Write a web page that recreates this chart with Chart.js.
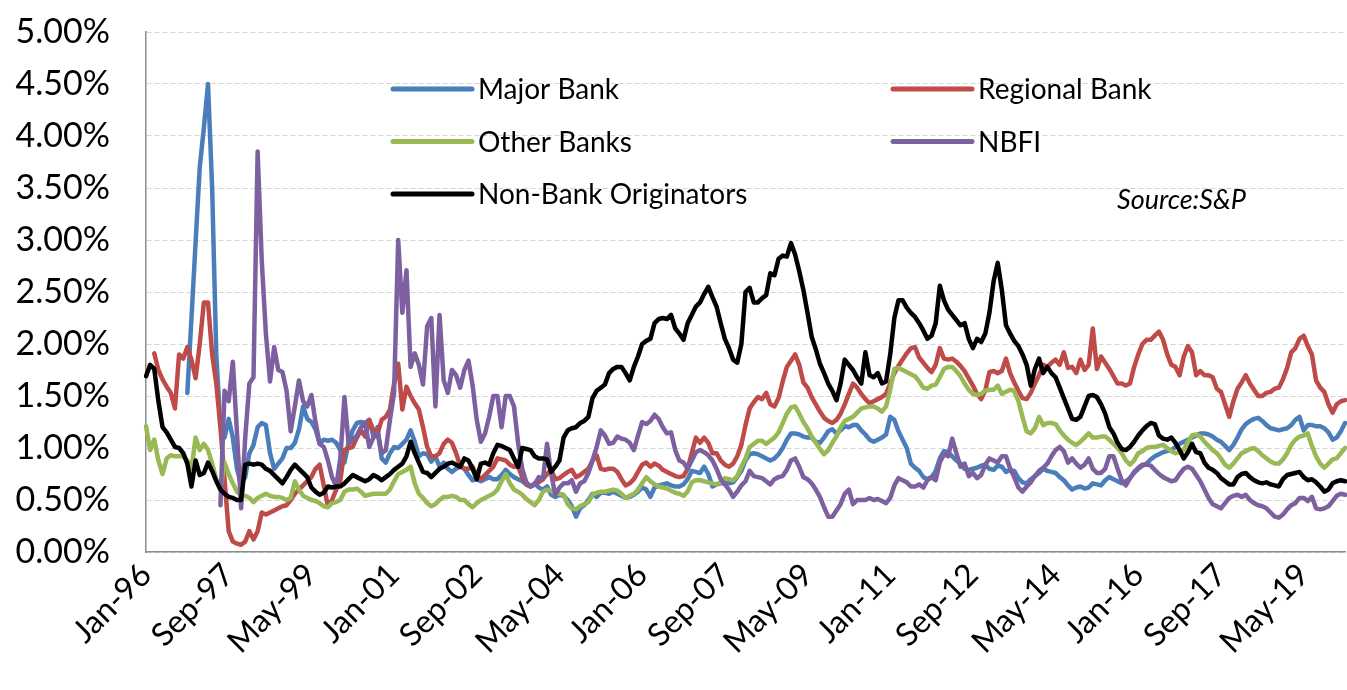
<!DOCTYPE html>
<html>
<head>
<meta charset="utf-8">
<script src="https://cdn.jsdelivr.net/npm/chart.js@4.4.1/dist/chart.umd.min.js"></script>
<style>
  html, body { margin: 0; padding: 0; background: #ffffff; }
  #wrap { width: 1347px; height: 690px; }
</style>
</head>
<body>
<div id="wrap"><canvas id="c" width="1347" height="690"></canvas></div>
<script>
// ---- categories (monthly, Jan-96 .. Mar-20) ----
const monthNames = ['Jan','Feb','Mar','Apr','May','Jun','Jul','Aug','Sep','Oct','Nov','Dec'];
const startYear = 1996;
const monthCount = 291;
const categories = [];
for (let i = 0; i < monthCount; i++) {
  const y = startYear + Math.floor(i / 12);
  categories.push(monthNames[i % 12] + '-' + String(y % 100).padStart(2, '0'));
}
// ---- tick labels shown on the x axis ----
const tickLabels = ['Jan-96','Sep-97','May-99','Jan-01','Sep-02','May-04','Jan-06','Sep-07','May-09','Jan-11','Sep-12','May-14','Jan-16','Sep-17','May-19'];
const yTicks = [0, 0.5, 1, 1.5, 2, 2.5, 3, 3.5, 4, 4.5, 5];
const sourceNote = 'Source:S&P';

// ---- series values (%) ----
const majorBank = [
null,null,null,null,null,null,null,null,null,null,
1.53,2.25,2.98,3.70,4.08,4.50,3.50,1.90,1.20,1.10,
1.28,1.10,0.80,0.65,0.72,0.95,1.03,1.20,1.24,1.22,
0.95,0.80,0.85,0.90,1.00,1.00,1.05,1.18,1.40,1.28,
1.25,1.18,1.04,1.08,1.07,1.08,1.05,0.98,0.86,1.05,
1.17,1.24,1.25,1.24,1.27,1.11,1.20,0.90,0.86,0.95,
1.01,1.00,1.04,1.08,1.17,1.06,0.92,0.95,0.94,0.87,
0.92,0.82,0.86,0.80,0.77,0.80,0.82,0.80,0.74,0.69,
0.70,0.68,0.70,0.72,0.70,0.70,0.74,0.79,0.75,0.72,
0.70,0.68,0.65,0.63,0.66,0.62,0.60,0.63,0.55,0.53,
0.55,0.54,0.50,0.44,0.34,0.42,0.45,0.50,0.56,0.53,
0.57,0.57,0.56,0.58,0.56,0.54,0.52,0.53,0.55,0.58,
0.62,0.60,0.53,0.62,0.64,0.65,0.66,0.64,0.63,0.63,
0.65,0.70,0.78,0.77,0.76,0.82,0.75,0.63,0.65,0.66,
0.66,0.66,0.67,0.72,0.78,0.88,0.94,0.95,0.94,0.92,
0.90,0.88,0.90,0.94,1.00,1.08,1.14,1.14,1.13,1.11,
1.10,1.10,1.06,1.05,1.10,1.16,1.18,1.14,1.17,1.21,
1.20,1.22,1.22,1.17,1.13,1.08,1.06,1.08,1.10,1.13,
1.30,1.27,1.16,1.08,1.00,0.85,0.81,0.78,0.72,0.70,
0.72,0.78,0.90,0.97,0.96,0.92,0.88,0.85,0.80,0.79,
0.80,0.81,0.83,0.84,0.80,0.79,0.83,0.82,0.77,0.79,
0.78,0.71,0.67,0.66,0.70,0.73,0.76,0.80,0.78,0.77,
0.76,0.72,0.69,0.64,0.60,0.62,0.63,0.61,0.62,0.66,
0.65,0.64,0.69,0.72,0.70,0.68,0.66,0.68,0.71,0.76,
0.80,0.83,0.85,0.89,0.92,0.94,0.96,0.97,0.98,1.01,
1.04,1.06,1.08,1.10,1.12,1.14,1.14,1.13,1.11,1.08,
1.06,1.02,0.98,1.03,1.10,1.18,1.23,1.26,1.28,1.29,
1.26,1.22,1.19,1.18,1.17,1.18,1.19,1.22,1.27,1.30,
1.17,1.22,1.22,1.21,1.21,1.19,1.15,1.08,1.10,1.16,1.24
];
const regionalBank = [
null,null,1.91,1.75,1.66,1.59,1.53,1.38,1.90,1.86,
1.97,1.85,1.67,2.00,2.40,2.40,1.90,1.62,1.20,0.70,
0.20,0.10,0.08,0.07,0.10,0.20,0.12,0.20,0.38,0.36,
0.38,0.40,0.42,0.44,0.45,0.50,0.56,0.60,0.64,0.68,
0.72,0.80,0.84,0.64,0.44,0.50,0.60,0.69,0.98,1.00,
1.01,1.10,1.17,1.11,1.27,1.17,1.14,1.27,1.30,1.37,
1.62,1.81,1.37,1.59,1.50,1.43,1.37,1.20,1.01,0.92,
0.92,0.95,1.04,1.08,1.05,0.95,0.83,0.80,0.80,0.82,
0.74,0.70,0.74,0.78,0.82,0.90,0.89,0.88,0.84,0.82,
0.82,0.72,0.65,0.63,0.65,0.67,0.70,0.75,0.79,0.70,
0.71,0.74,0.77,0.79,0.72,0.74,0.77,0.80,0.88,0.93,
0.80,0.79,0.80,0.80,0.77,0.70,0.64,0.66,0.70,0.77,
0.84,0.86,0.82,0.85,0.83,0.79,0.77,0.75,0.73,0.72,
0.73,0.80,0.95,1.10,1.05,1.10,1.05,0.95,0.95,0.88,
0.84,0.82,0.85,0.92,1.03,1.22,1.38,1.44,1.49,1.47,
1.53,1.42,1.40,1.48,1.64,1.78,1.84,1.90,1.80,1.63,
1.58,1.49,1.42,1.35,1.29,1.26,1.24,1.27,1.33,1.42,
1.52,1.62,1.58,1.52,1.47,1.43,1.45,1.47,1.49,1.52,
1.62,1.72,1.79,1.85,1.91,1.96,1.97,1.87,1.82,1.77,
1.73,1.80,1.96,1.86,1.85,1.86,1.83,1.79,1.74,1.67,
1.60,1.52,1.47,1.55,1.73,1.74,1.72,1.74,1.86,1.72,
1.63,1.55,1.48,1.47,1.53,1.62,1.70,1.80,1.78,1.82,
1.85,1.80,1.92,1.77,1.78,1.72,1.85,1.75,1.80,2.15,
1.76,1.88,1.82,1.76,1.69,1.62,1.62,1.60,1.62,1.78,
1.90,2.00,2.04,2.04,2.08,2.12,2.04,1.90,1.80,1.78,
1.70,1.88,1.98,1.92,1.70,1.74,1.70,1.70,1.68,1.57,
1.54,1.42,1.30,1.45,1.57,1.63,1.70,1.62,1.56,1.50,
1.50,1.53,1.54,1.57,1.58,1.66,1.77,1.92,1.96,2.05,
2.08,1.98,1.90,1.65,1.58,1.54,1.42,1.34,1.42,1.45,1.46
];
const otherBanks = [
1.21,0.98,1.08,0.88,0.75,0.90,0.93,0.92,0.92,0.92,
0.88,0.80,1.10,0.98,1.04,0.98,0.85,0.70,0.60,0.86,
0.75,0.66,0.58,0.55,0.54,0.52,0.48,0.52,0.54,0.56,
0.54,0.53,0.53,0.52,0.50,0.52,0.68,0.60,0.54,0.52,
0.50,0.49,0.47,0.44,0.43,0.47,0.48,0.50,0.58,0.60,
0.60,0.61,0.58,0.54,0.55,0.56,0.56,0.56,0.56,0.60,
0.68,0.75,0.77,0.79,0.82,0.66,0.56,0.52,0.47,0.44,
0.46,0.50,0.53,0.53,0.54,0.53,0.50,0.50,0.46,0.43,
0.47,0.50,0.52,0.54,0.56,0.60,0.68,0.75,0.66,0.60,
0.58,0.55,0.51,0.48,0.45,0.50,0.58,0.60,0.59,0.56,
0.56,0.55,0.46,0.42,0.41,0.44,0.46,0.48,0.55,0.57,
0.58,0.58,0.59,0.60,0.59,0.56,0.52,0.54,0.56,0.60,
0.66,0.72,0.68,0.65,0.63,0.62,0.61,0.59,0.57,0.56,
0.54,0.58,0.67,0.69,0.69,0.68,0.67,0.66,0.65,0.67,
0.71,0.70,0.69,0.73,0.82,0.90,1.01,1.04,1.07,1.07,
1.04,1.07,1.10,1.15,1.24,1.33,1.39,1.40,1.33,1.25,
1.19,1.11,1.05,0.99,0.94,0.98,1.05,1.11,1.20,1.26,
1.28,1.30,1.34,1.38,1.39,1.40,1.40,1.38,1.35,1.40,
1.56,1.76,1.77,1.75,1.73,1.71,1.69,1.64,1.58,1.57,
1.60,1.61,1.68,1.76,1.78,1.78,1.74,1.69,1.62,1.56,
1.52,1.51,1.52,1.55,1.56,1.56,1.60,1.52,1.54,1.56,
1.55,1.45,1.30,1.16,1.14,1.19,1.30,1.22,1.24,1.24,
1.23,1.17,1.12,1.08,1.05,1.03,1.06,1.10,1.14,1.10,
1.10,1.11,1.11,1.08,1.04,1.00,0.95,0.88,0.84,0.88,
0.95,0.97,1.00,1.01,1.01,1.02,1.03,1.00,0.97,0.95,
0.96,0.98,1.06,1.12,1.13,1.11,1.06,1.02,0.98,0.95,
0.90,0.84,0.81,0.85,0.90,0.95,0.97,0.99,1.00,0.97,
0.93,0.90,0.87,0.85,0.85,0.89,0.95,1.03,1.08,1.11,
1.12,1.14,1.02,0.92,0.85,0.81,0.85,0.89,0.90,0.95,1.00
];
const nbfi = [
null,null,null,null,null,null,null,null,null,null,
null,null,null,null,null,null,null,null,0.45,1.55,
1.45,1.83,1.15,0.42,1.10,1.62,1.68,3.85,2.80,2.10,
1.64,1.97,1.75,1.73,1.55,1.16,1.40,1.65,1.45,1.40,
1.51,1.25,1.04,1.01,0.88,0.72,0.63,0.90,1.49,1.04,
1.08,1.12,1.20,1.24,1.01,1.10,1.14,0.95,0.98,1.27,
1.53,3.00,2.30,2.71,1.78,1.91,1.80,1.61,2.17,2.25,
1.40,2.28,1.65,1.53,1.75,1.70,1.58,1.75,1.84,1.60,
1.27,1.06,1.14,1.30,1.50,1.50,1.20,1.50,1.50,1.40,
1.05,0.80,0.67,0.63,0.65,0.72,0.70,1.04,0.75,0.55,
0.62,0.66,0.66,0.69,0.58,0.66,0.68,0.76,0.88,1.01,
1.17,1.12,1.04,1.05,1.11,1.09,1.08,1.05,0.98,1.12,
1.25,1.23,1.26,1.32,1.28,1.20,1.14,1.15,0.98,0.88,
0.86,0.80,0.88,0.96,0.98,0.96,0.93,0.88,0.80,0.70,
0.65,0.60,0.53,0.58,0.64,0.68,0.78,0.73,0.72,0.71,
0.68,0.65,0.70,0.72,0.73,0.79,0.88,0.90,0.82,0.72,
0.70,0.66,0.60,0.53,0.43,0.34,0.34,0.40,0.46,0.56,
0.60,0.46,0.50,0.50,0.50,0.52,0.50,0.51,0.49,0.47,
0.52,0.64,0.71,0.69,0.67,0.63,0.63,0.65,0.62,0.69,
0.72,0.69,0.86,0.94,0.92,1.09,0.95,0.82,0.85,0.73,
0.76,0.71,0.74,0.84,0.90,0.88,0.86,0.92,0.92,0.80,
0.72,0.62,0.58,0.63,0.67,0.73,0.78,0.81,0.85,0.92,
0.98,1.01,0.97,0.86,0.90,0.85,0.81,0.84,0.90,0.80,
0.76,0.76,0.80,0.92,0.92,0.80,0.69,0.64,0.71,0.77,
0.81,0.84,0.84,0.83,0.79,0.75,0.72,0.70,0.68,0.69,
0.75,0.80,0.82,0.80,0.74,0.68,0.60,0.52,0.46,0.44,
0.42,0.47,0.52,0.54,0.55,0.53,0.55,0.50,0.47,0.45,
0.44,0.42,0.38,0.34,0.33,0.36,0.41,0.45,0.47,0.52,
0.52,0.49,0.53,0.42,0.41,0.42,0.44,0.49,0.54,0.56,0.55
];
const nonBankOriginators = [
1.69,1.80,1.76,1.45,1.20,1.15,1.08,1.01,1.00,0.95,
0.85,0.63,0.88,0.74,0.76,0.86,0.78,0.68,0.60,0.56,
0.53,0.52,0.50,0.50,0.84,0.85,0.84,0.85,0.84,0.80,
0.78,0.74,0.70,0.66,0.72,0.79,0.84,0.80,0.76,0.72,
0.62,0.58,0.55,0.57,0.63,0.62,0.63,0.63,0.66,0.70,
0.74,0.72,0.70,0.68,0.70,0.74,0.72,0.69,0.72,0.75,
0.79,0.82,0.85,0.92,1.06,0.95,0.86,0.77,0.76,0.72,
0.76,0.80,0.82,0.85,0.86,0.84,0.82,0.90,0.88,0.80,
0.70,0.85,0.86,0.84,0.95,1.03,1.02,1.00,0.98,0.90,
0.82,1.00,0.99,0.98,0.92,0.90,0.90,0.89,0.77,0.82,
0.88,1.10,1.17,1.19,1.20,1.24,1.26,1.30,1.48,1.55,
1.58,1.61,1.72,1.76,1.78,1.78,1.72,1.65,1.78,1.88,
2.00,2.03,2.05,2.20,2.24,2.25,2.24,2.28,2.15,2.10,
2.04,2.20,2.28,2.36,2.40,2.48,2.55,2.45,2.36,2.20,
2.05,1.96,1.85,1.82,2.00,2.50,2.54,2.40,2.40,2.44,
2.47,2.68,2.66,2.82,2.85,2.84,2.97,2.86,2.70,2.52,
2.30,2.07,1.95,1.81,1.72,1.62,1.55,1.46,1.62,1.85,
1.80,1.75,1.68,1.62,1.92,1.70,1.68,1.72,1.62,1.64,
1.90,2.25,2.42,2.42,2.35,2.30,2.26,2.20,2.13,2.05,
2.08,2.20,2.56,2.42,2.33,2.28,2.23,2.18,2.20,2.05,
1.96,2.05,2.02,2.10,2.30,2.60,2.78,2.52,2.18,2.10,
2.03,1.98,1.90,1.80,1.60,1.76,1.86,1.72,1.78,1.72,
1.68,1.58,1.48,1.38,1.28,1.27,1.30,1.40,1.50,1.51,
1.49,1.42,1.33,1.20,1.14,1.05,0.99,0.98,1.01,1.06,
1.12,1.17,1.21,1.24,1.23,1.12,1.09,1.08,1.10,1.05,
0.98,0.90,0.96,1.04,0.96,0.95,0.86,0.81,0.79,0.76,
0.71,0.68,0.65,0.65,0.72,0.75,0.76,0.72,0.69,0.67,
0.66,0.67,0.65,0.64,0.63,0.70,0.74,0.75,0.76,0.77,
0.72,0.69,0.70,0.67,0.63,0.58,0.60,0.66,0.68,0.69,0.68
];

const seriesNames = ['Major Bank', 'Regional Bank', 'Other Banks', 'NBFI', 'Non-Bank Originators'];
const seriesColors = ['#4a7ebb', '#be4b48', '#98b954', '#7d60a0', '#000000'];
const seriesData = [majorBank, regionalBank, otherBanks, nbfi, nonBankOriginators];

const FONT = 'Lato, "Open Sans", sans-serif';

const legendPlugin = {
  id: 'insideLegend',
  afterDatasetsDraw(chart) {
    const { ctx, chartArea } = chart;
    ctx.save();
    chart.data.datasets.forEach((ds, k) => {
      const col = k % 2, row = Math.floor(k / 2);
      const x0 = chartArea.left + 247 + col * 500;
      const y0 = chartArea.top + 57 + row * 52.5;
      ctx.strokeStyle = ds.borderColor;
      ctx.lineWidth = 5;
      ctx.lineCap = 'round';
      ctx.beginPath();
      ctx.moveTo(x0, y0);
      ctx.lineTo(x0 + 79, y0);
      ctx.stroke();
      ctx.fillStyle = '#000';
      ctx.font = '28px ' + FONT;
      ctx.textBaseline = 'middle';
      ctx.textAlign = 'left';
      ctx.fillText(ds.label, x0 + 85, y0 + 1);
    });
    ctx.font = 'italic 27px ' + FONT;
    ctx.textBaseline = 'middle';
    ctx.fillText(sourceNote, chartArea.left + 971, chartArea.top + 168);
    ctx.restore();
  }
};

new Chart(document.getElementById('c'), {
  type: 'line',
  data: {
    labels: categories,
    datasets: seriesData.map((d, k) => ({
      label: seriesNames[k],
      data: d,
      borderColor: seriesColors[k],
      backgroundColor: seriesColors[k],
      borderWidth: 4.5,
      pointRadius: 0,
      tension: 0,
      spanGaps: false,
      borderJoinStyle: 'round',
      borderCapStyle: 'round',
      order: 4 - k
    }))
  },
  options: {
    responsive: false,
    animation: false,
    devicePixelRatio: 1,
    layout: { padding: { left: 0, right: 2, top: 32, bottom: 0 } },
    plugins: { legend: { display: false }, tooltip: { enabled: false } },
    scales: {
      x: {
        type: 'category',
        offset: false,
        grid: { display: false, drawTicks: false },
        border: { display: true, color: '#8c8c8c', width: 1.5 },
        ticks: {
          autoSkip: false,
          maxRotation: 45,
          minRotation: 45,
          padding: 4,
          color: '#000',
          font: { family: FONT, size: 32 },
          callback: function (value) {
            const lab = this.getLabelForValue(value);
            return tickLabels.includes(lab) ? lab : null;
          }
        },
        afterFit: (scale) => { scale.height = 138; }
      },
      y: {
        min: 0,
        max: 5,
        afterBuildTicks: (scale) => { scale.ticks = yTicks.map(v => ({ value: v })); },
        grid: { color: '#d4d4d4', lineWidth: 1, drawTicks: false },
        border: { display: true, color: '#8c8c8c', width: 1.5, dash: [5, 3] },
        ticks: {
          padding: 36,
          color: '#000',
          font: { family: FONT, size: 34 },
          callback: (v) => Number(v).toFixed(2) + '%'
        },
        afterFit: (scale) => {
          scale.width = 146;
          scale.paddingTop = 0;
          scale.paddingBottom = 0;
        }
      }
    }
  },
  plugins: [legendPlugin]
});
</script>
</body>
</html>
